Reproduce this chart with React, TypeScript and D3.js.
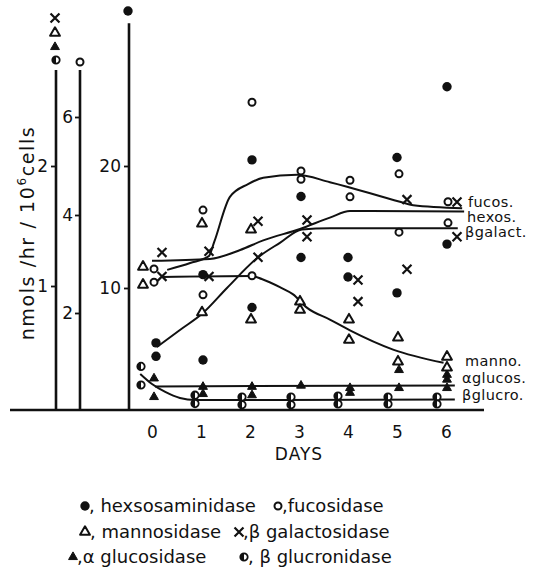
import React, { useEffect, useRef } from 'react'
import * as d3 from 'd3'

const W = 544
const H = 571
const ink = '#111'
const font = 'DejaVu Sans, Verdana, sans-serif'

const days = [0, 1, 2, 3, 4, 5, 6]

// readings per day, each enzyme in the units of its own y axis
const hexosaminidase = [[5.5, 4.4], [11.1, 4.1], [20.5, 8.4], [17.5, 12.5], [12.5, 10.9], [20.7, 9.6], [26.5, 13.6]]
const fucosidase = [[2.9, 2.63], [4.1, 2.37], [6.3, 2.76], [4.9, 4.73], [4.71, 4.37], [4.84, 3.65], [4.27, 3.84]]
const galactosidase = [[1.28, 1.08], [1.29, 1.08], [1.54, 1.24], [1.55, 1.41], [1.05, 0.87], [1.72, 1.14], [1.7, 1.41]]
const mannosidase = [[1.16, 1.01], [1.52, 0.78], [1.47, 0.72], [0.87, 0.8], [0.72, 0.55], [0.57, 0.37], [0.41, 0.32]]
const glucosidase = [[0.23, 0.075], [0.16, 0.1], [0.16, 0.09], [0.17], [0.15, 0.11], [0.3, 0.15], [0.26, 0.22, 0.15]]
const glucronidase = [[0.33, 0.175], [0.09, 0.02], [0.075, 0.01], [0.075, 0.01], [0.083, 0.017], [0.075, 0.017], [0.075, 0.017]]

// hand fitted curves [day, value]
const fucosCurve = [[0.31, 2.88], [0.78, 3.02], [1.16, 3.16], [1.27, 3.45], [1.59, 4.37], [1.96, 4.63], [2.27, 4.76], [2.96, 4.82], [3.63, 4.67], [5.06, 4.27], [5.33, 4.2], [6.33, 4.14]]
const hexosCurve = [[0.1, 5.16], [0.57, 6.56], [1.04, 7.95], [1.53, 10.0], [2.16, 12.5], [2.61, 13.7], [3.06, 14.8], [3.63, 14.9], [6.24, 14.9]]
const galactCurve = [[0, 1.21], [1.18, 1.225], [1.8, 1.3], [2.27, 1.38], [3.02, 1.475], [3.63, 1.57], [4.04, 1.625], [6.37, 1.62]]
const mannoCurve = [[0.2, 1.075], [2.04, 1.083], [2.24, 1.058], [2.61, 0.99], [2.88, 0.93], [3.16, 0.82], [3.63, 0.72], [4.04, 0.63], [4.92, 0.47], [5.95, 0.36]]
const glucosCurve = [[0.06, 0.163], [6.18, 0.171]]
const glucroCurve = [[-0.24, 0.267], [0, 0.183], [0.27, 0.117], [0.57, 0.067], [0.88, 0.05], [6.18, 0.055]]

const lowTicks = [1, 2]
const fucTicks = [2, 4, 6]
const hexTicks = [10, 20]
const lowTop = 2.8
const fucTop = 6.96
const hexTop = 31.7

const x = d3.scaleLinear().domain([0, 6]).range([152, 446])
const yLow = d3.scaleLinear().domain([0, 2]).range([406, 166])
const yFuc = d3.scaleLinear().domain([0, 6]).range([411, 117])
const yHex = d3.scaleLinear().domain([0, 20]).range([410, 166])
const base = 410

const axLow = 56
const axFuc = 80
const axHex = 129

const triPath = d3.symbol(d3.symbolTriangle, 42)()
const fTriPath = d3.symbol(d3.symbolTriangle, 34)()
const timesPath = d3.symbol(d3.symbolTimes, 54)()

function Mark({ kind, cx, cy }) {
  const t = `translate(${cx},${cy})`
  if (kind === 'dot') return <circle cx={cx} cy={cy} r={4.7} fill={ink} />
  if (kind === 'ring') return <circle cx={cx} cy={cy} r={3.5} fill="#fff" stroke={ink} strokeWidth={2} />
  if (kind === 'tri') return <path transform={t} d={triPath} fill="#fff" stroke={ink} strokeWidth={2} strokeLinejoin="round" />
  if (kind === 'ftri') return <path transform={t} d={fTriPath} fill={ink} stroke={ink} strokeWidth={1} />
  if (kind === 'cross') return <path transform={t} d={timesPath} fill="none" stroke={ink} strokeWidth={2.2} />
  return (
    <g transform={t}>
      <circle r={3.7} fill="#fff" stroke={ink} strokeWidth={1.8} />
      <path d="M0,-3.7A3.7,3.7 0 0 0 0,3.7Z" fill={ink} />
    </g>
  )
}

const series = [
  { name: 'glucro', data: glucronidase, y: yLow, kind: 'half', dx: [-11, -6, -8, -8, -10, -9, -9] },
  { name: 'glucos', data: glucosidase, y: yLow, kind: 'ftri', dx: [2, 2, 2, 2, 2, 2, 1] },
  { name: 'manno', data: mannosidase, y: yLow, kind: 'tri', dx: [-9, 1, 1, 1, 1, 1, 1] },
  { name: 'galact', data: galactosidase, y: yLow, kind: 'cross', dx: [10, 8, 8, 8, 10, 10, 11] },
  { name: 'fucos', data: fucosidase, y: yFuc, kind: 'ring', dx: [2, 2, 2, 2, 2, 2, 2] },
  { name: 'hexos', data: hexosaminidase, y: yHex, kind: 'dot', dx: [4, 2, 2, 2, 0, 0, 1] },
]

const curves = [
  { data: fucosCurve, y: yFuc },
  { data: hexosCurve, y: yHex },
  { data: galactCurve, y: yLow },
  { data: mannoCurve, y: yLow },
  { data: glucosCurve, y: yLow },
  { data: glucroCurve, y: yLow },
]

const endLabels = [
  { text: 'fucos.', x: 468, y: 207 },
  { text: 'hexos.', x: 467, y: 222 },
  { text: 'βgalact.', x: 465, y: 237 },
  { text: 'manno.', x: 465, y: 366 },
  { text: 'αglucos.', x: 462, y: 383 },
  { text: 'βglucro.', x: 462, y: 400 },
]

const legend = [
  { kind: 'dot', mx: 85, my: 506, text: ', hexsosaminidase', tx: 89, ty: 512 },
  { kind: 'ring', mx: 278, my: 506, text: ',fucosidase', tx: 282, ty: 512 },
  { kind: 'tri', mx: 85, my: 532, text: ', mannosidase', tx: 90, ty: 538 },
  { kind: 'cross', mx: 239, my: 532, text: ',β galactosidase', tx: 243, ty: 538 },
  { kind: 'ftri', mx: 73, my: 557, text: ',α glucosidase', tx: 77, ty: 563 },
  { kind: 'half', mx: 244, my: 557, text: ', β glucronidase', tx: 248, ty: 563 },
]

export default function App() {
  const axisRef = useRef(null)

  useEffect(() => {
    const g = d3.select(axisRef.current)
    g.selectAll('*').remove()

    const yAxes = [
      { scale: yLow, ticks: lowTicks, at: axLow, pad: 3 },
      { scale: yFuc, ticks: fucTicks, at: axFuc, pad: 2 },
      { scale: yHex, ticks: hexTicks, at: axHex, pad: 3 },
    ]
    yAxes.forEach(a => {
      g.append('g')
        .attr('transform', `translate(${a.at},0)`)
        .call(d3.axisLeft(a.scale).tickValues(a.ticks).tickSize(5).tickPadding(a.pad).tickFormat(d3.format('d')))
        .call(s => s.select('.domain').remove())
        .call(s => s.selectAll('line').attr('stroke', ink).attr('stroke-width', 1.8))
        .call(s => s.selectAll('text').attr('fill', ink).attr('font-size', 17).attr('font-family', font))
    })

    g.append('g')
      .attr('transform', `translate(0,${base})`)
      .call(d3.axisBottom(x).tickValues(days).tickSize(0).tickPadding(16).tickFormat(d3.format('d')))
      .call(s => s.select('.domain').remove())
      .call(s => s.selectAll('text').attr('fill', ink).attr('font-size', 17).attr('font-family', font))
  }, [])

  const line = yScale => d3.line().x(d => x(d[0])).y(d => yScale(d[1])).curve(d3.curveMonotoneX)

  return (
    <svg width={W} height={H} style={{ position: 'absolute', left: 0, top: 0, background: '#fff' }} fontFamily={font}>
      <rect width={W} height={H} fill="#fff" />
      {/* vertical axes */}
      <line x1={axLow} x2={axLow} y1={base} y2={yLow(lowTop)} stroke={ink} strokeWidth={2.6} />
      <line x1={axFuc} x2={axFuc} y1={base} y2={yFuc(fucTop)} stroke={ink} strokeWidth={2.6} />
      <line x1={axHex} x2={axHex} y1={base} y2={yHex(hexTop)} stroke={ink} strokeWidth={2.6} />
      <line x1={10} x2={484} y1={base} y2={base} stroke={ink} strokeWidth={2.6} />

      {/* axis keys */}
      <Mark kind="cross" cx={axLow - 1} cy={18} />
      <Mark kind="tri" cx={axLow - 1} cy={33} />
      <Mark kind="ftri" cx={axLow - 1} cy={47} />
      <Mark kind="half" cx={axLow} cy={60} />
      <Mark kind="ring" cx={axFuc} cy={62} />
      <Mark kind="dot" cx={axHex - 1} cy={11} />

      <g ref={axisRef} />

      <text transform="translate(34,233) rotate(-90)" textAnchor="middle" fontSize={19} fill={ink} letterSpacing={1.6}>
        nmols /hr / 10<tspan dy={-8} fontSize={12}>6</tspan><tspan dy={8}>cells</tspan>
      </text>

      {curves.map((c, i) => (
        <path key={i} d={line(c.y)(c.data)} fill="none" stroke={ink} strokeWidth={2} />
      ))}

      {series.map(s => (
        <g key={s.name}>
          {s.data.map((vals, di) => vals.map((v, k) => (
            <Mark key={di + '-' + k} kind={s.kind} cx={x(days[di]) + s.dx[di]} cy={s.y(v)} />
          )))}
        </g>
      ))}

      {endLabels.map(l => (
        <text key={l.text} x={l.x} y={l.y} fontSize={14.5} letterSpacing={0.4} fill={ink}>{l.text}</text>
      ))}

      <text x={299} y={460} textAnchor="middle" fontSize={17} fill={ink} letterSpacing={1}>DAYS</text>

      {legend.map(l => (
        <g key={l.text}>
          <Mark kind={l.kind} cx={l.mx} cy={l.my} />
          <text x={l.tx} y={l.ty} fontSize={18} fill={ink}>{l.text}</text>
        </g>
      ))}
    </svg>
  )
}
